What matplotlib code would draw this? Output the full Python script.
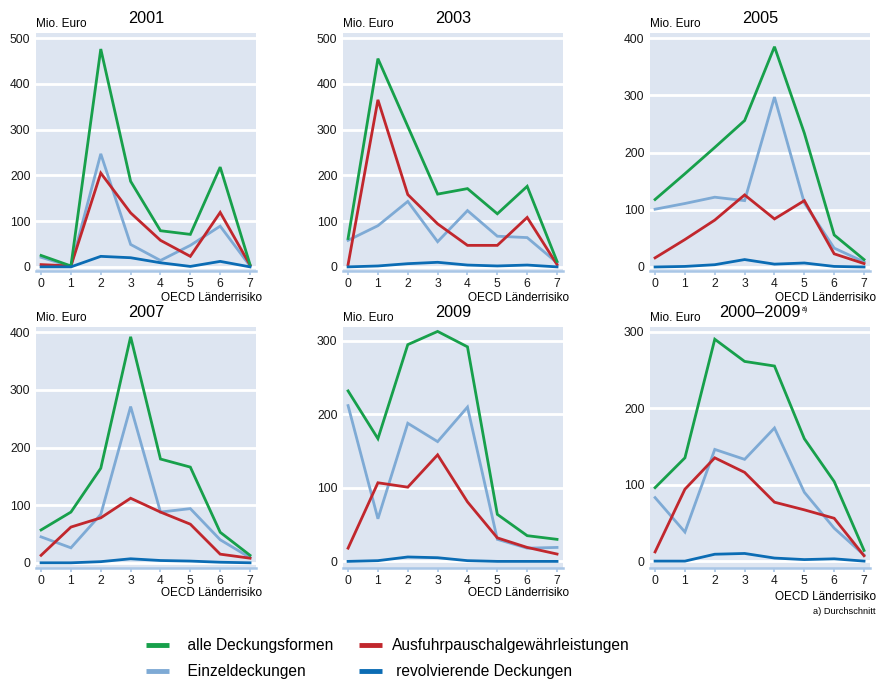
import matplotlib.pyplot as plt
from matplotlib.lines import Line2D

plt.rcParams["font.family"] = ["Liberation Sans", "DejaVu Sans"]

# OECD country risk category 0..7
RISK = [0, 1, 2, 3, 4, 5, 6, 7]
PANEL_TITLES = ["2001", "2003", "2005", "2007", "2009", "2000–2009"]
Y_MAX = [500, 500, 400, 400, 300, 300]

# Mio. Euro, one row per panel (same order as PANEL_TITLES)
ALLE_DECKUNGSFORMEN = [
    [25, 2, 476, 187, 79, 71, 218, 5],
    [62, 455, 307, 159, 171, 116, 176, 12],
    [118, 163, 209, 256, 385, 234, 56, 13],
    [57, 88, 164, 392, 180, 166, 53, 13],
    [232, 167, 295, 313, 292, 64, 35, 30],
    [96, 135, 290, 261, 255, 160, 104, 14],
]
EINZELDECKUNGEN = [
    [21, 1, 247, 49, 14, 47, 89, 2],
    [58, 90, 143, 55, 123, 67, 64, 9],
    [101, 111, 122, 116, 297, 112, 33, 9],
    [45, 26, 84, 271, 88, 94, 40, 9],
    [212, 58, 188, 163, 210, 30, 18, 19],
    [83, 38, 146, 133, 174, 90, 43, 8],
]
AUSFUHRPAUSCHAL = [
    [5, 2, 205, 118, 58, 23, 119, 4],
    [5, 365, 158, 94, 47, 47, 108, 5],
    [16, 48, 82, 126, 84, 116, 23, 6],
    [13, 62, 78, 112, 88, 67, 15, 8],
    [18, 107, 101, 145, 81, 32, 19, 10],
    [12, 94, 135, 116, 77, 67, 56, 7],
]
REVOLVIEREND = [
    [0, 0, 23, 20, 9, 1, 12, 0],
    [0, 2, 7, 10, 4, 2, 4, 0],
    [0, 1, 4, 13, 5, 7, 1, 0],
    [0, 0, 2, 7, 4, 3, 1, 0],
    [0, 1, 6, 5, 1, 0, 0, 0],
    [0, 0, 9, 10, 4, 2, 3, 0],
]

SERIES = [
    ("alle Deckungsformen", ALLE_DECKUNGSFORMEN, "#17a04b"),
    ("Einzeldeckungen", EINZELDECKUNGEN, "#7eaad5"),
    ("Ausfuhrpauschalgewährleistungen", AUSFUHRPAUSCHAL, "#c1272d"),
    ("revolvierende Deckungen", REVOLVIEREND, "#0b6cb4"),
]

BG = "#dde5f1"
AXIS_BLUE = "#a9c6e6"

W, H = 882, 682
fig = plt.figure(figsize=(W / 100, H / 100), dpi=100)

col_left = [36, 343, 650]
row_top_bottom = [(33, 271), (327, 568)]
y_top = [511, 511, 409, 409, 319, 306]
y_bottom = [-9, -9, -7, -9, -9, -9]
# offsets below axes for "OECD Länderrisiko", in points
xlabel_off = [19.5, 19.5, 19.5, 18, 18, 21]

for i, title in enumerate(PANEL_TITLES):
    r, c = divmod(i, 3)
    top, bottom = row_top_bottom[r]
    ax = fig.add_axes([col_left[c] / W, 1 - bottom / H, 220 / W, (bottom - top) / H])
    ax.set_facecolor(BG)

    # draw in back-to-front order: light blue, red, green, dark blue
    for label, data, color in [SERIES[1], SERIES[2], SERIES[0], SERIES[3]]:
        ax.plot(RISK, data[i], color=color, lw=2.0, solid_joinstyle="miter", zorder=3)

    ax.set_xlim(-0.17, 7.2)
    ax.set_ylim(y_bottom[i], y_top[i])
    ax.set_xticks(RISK)
    ax.set_yticks(range(0, Y_MAX[i] + 1, 100))
    ax.grid(axis="y", color="white", lw=2.0, zorder=1)
    ax.set_axisbelow(True)

    for side in ["top", "right", "left"]:
        ax.spines[side].set_visible(False)
    ax.spines["bottom"].set_color(AXIS_BLUE)
    ax.spines["bottom"].set_linewidth(1.8)
    ax.tick_params(axis="x", colors=AXIS_BLUE, length=3, width=1.2, pad=2,
                   labelcolor="#1a1a1a", labelsize=8.7)
    ax.tick_params(axis="y", length=0, pad=4, labelcolor="#1a1a1a", labelsize=8.7)

    ttl = ax.annotate(title, xy=(0.5, 1), xycoords="axes fraction",
                      xytext=(0, 5), textcoords="offset points",
                      ha="center", va="bottom", fontsize=11.7)
    if i == 5:
        ax.annotate("a)", xy=(1, 1), xycoords=ttl, xytext=(0.5, -3),
                    textcoords="offset points", ha="left", va="center", fontsize=5)
    ax.annotate("Mio. Euro", xy=(0, 1), xycoords="axes fraction",
                xytext=(0, 2), textcoords="offset points",
                ha="left", va="bottom", fontsize=8.5)
    ax.annotate("OECD Länderrisiko", xy=(1, 0), xycoords="axes fraction",
                xytext=(4.3, -xlabel_off[i]), textcoords="offset points",
                ha="right", va="center", fontsize=8.5)
    if i == 5:
        ax.annotate("a) Durchschnitt", xy=(1, 0), xycoords="axes fraction",
                    xytext=(4.3, -31.5), textcoords="offset points",
                    ha="right", va="center", fontsize=6.7)

handles = [Line2D([], [], color=col, lw=3.5, solid_capstyle="butt") for _, _, col in SERIES]
labels = [lab for lab, _, _ in SERIES]
labels[0] = "  " + labels[0]
labels[1] = "  " + labels[1]
labels[3] = " " + labels[3]
fig.legend(handles, labels, ncol=2, frameon=False, fontsize=11.2,
           loc="upper left", bbox_to_anchor=(146 / W, 1 - 638 / H),
           borderpad=0, borderaxespad=0, handlelength=1.5, handletextpad=0.65,
           columnspacing=1.6, labelspacing=0.72)

fig.savefig("out.png", dpi=100)
